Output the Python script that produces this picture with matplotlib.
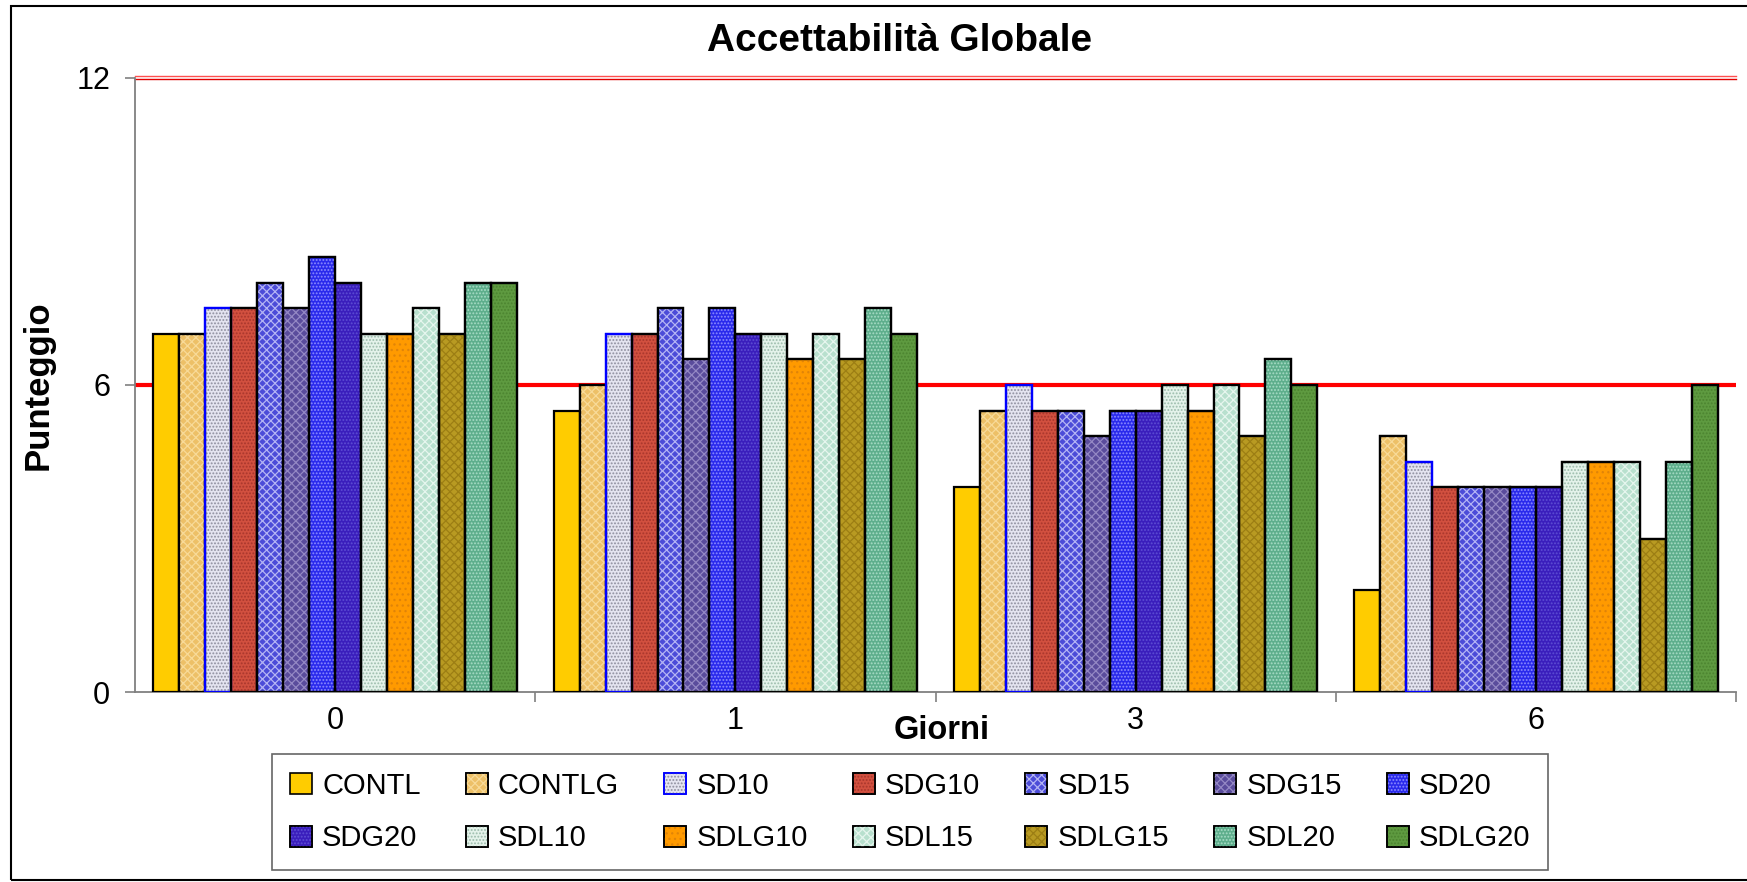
import numpy as np
import matplotlib.pyplot as plt
from matplotlib.patches import Rectangle

plt.rcParams['font.family'] = ['Liberation Sans', 'DejaVu Sans']
plt.rcParams['hatch.linewidth'] = 0.9

# Giorni di conservazione e punteggi per campione
giorni = ['0', '1', '3', '6']
campioni = ['CONTL', 'CONTLG', 'SD10', 'SDG10', 'SD15', 'SDG15', 'SD20',
            'SDG20', 'SDL10', 'SDLG10', 'SDL15', 'SDLG15', 'SDL20', 'SDLG20']

CONTL = [7.0, 5.5, 4.0, 2.0]
CONTLG = [7.0, 6.0, 5.5, 5.0]
SD10 = [7.5, 7.0, 6.0, 4.5]
SDG10 = [7.5, 7.0, 5.5, 4.0]
SD15 = [8.0, 7.5, 5.5, 4.0]
SDG15 = [7.5, 6.5, 5.0, 4.0]
SD20 = [8.5, 7.5, 5.5, 4.0]
SDG20 = [8.0, 7.0, 5.5, 4.0]
SDL10 = [7.0, 7.0, 6.0, 4.5]
SDLG10 = [7.0, 6.5, 5.5, 4.5]
SDL15 = [7.5, 7.0, 6.0, 4.5]
SDLG15 = [7.0, 6.5, 5.0, 3.0]
SDL20 = [8.0, 7.5, 6.5, 4.5]
SDLG20 = [8.0, 7.0, 6.0, 6.0]

valori = [CONTL, CONTLG, SD10, SDG10, SD15, SDG15, SD20,
          SDG20, SDL10, SDLG10, SDL15, SDLG15, SDL20, SDLG20]

soglia = 6
massimo = 12

# colore di fondo, colore del retino, retino, bordo
stili = [
    ('#FFCC00', '#FFCC00', '', 'black'),
    ('#EDC067', '#F8DA98', 'xxxx', 'black'),
    ('#E4E4F0', '#8E8E9E', '.....', '#0000FF'),
    ('#D2503F', '#A8362C', '.....', 'black'),
    ('#4C4CD8', '#B4B4F4', 'xxxx', 'black'),
    ('#5A4C9C', '#9488C4', 'xxxx', 'black'),
    ('#2A2AEC', '#8C8CFF', '.....', 'black'),
    ('#3A1EBC', '#5E4ED4', '.....', 'black'),
    ('#E4F2EA', '#9CBCAC', '.....', 'black'),
    ('#FF9A00', '#E08408', '...', 'black'),
    ('#B8E0CE', '#E6F6EE', 'xxxx', 'black'),
    ('#B89A22', '#9C7E14', 'xxxx', 'black'),
    ('#5EAE8C', '#A8DCC6', '.....', 'black'),
    ('#5E9A40', '#4C8430', '.....', 'black'),
]

fig = plt.figure(figsize=(17.47, 8.82), dpi=100)
ax = fig.add_axes([0.0773, 0.2154, 0.9164, 0.6962])

x = np.arange(len(giorni))
n = len(campioni)
w = 0.908 / n

handles = []
for i, (nome, val) in enumerate(zip(campioni, valori)):
    fc, hc, hatch, ec = stili[i]
    pos = x - 0.454 + w * (i + 0.5)
    ax.bar(pos, val, w, color=fc, edgecolor=ec, linewidth=1.6, zorder=3)
    if hatch:
        ax.bar(pos, val, w, color='none', edgecolor=hc, hatch=hatch,
               linewidth=0, zorder=4)
        ax.bar(pos, val, w, color='none', edgecolor=ec, linewidth=1.6, zorder=5)
    p1 = Rectangle((0, 0), 1, 1, facecolor=fc, edgecolor=ec, linewidth=1.2)
    if hatch:
        p2 = Rectangle((0, 0), 1, 1, facecolor='none', edgecolor=hc,
                       hatch=hatch, linewidth=0)
        p3 = Rectangle((0, 0), 1, 1, facecolor='none', edgecolor=ec, linewidth=1.2)
        handles.append((p1, p2, p3))
    else:
        handles.append(p1)

# linee di riferimento
ax.axhline(soglia, color='#FF0000', linewidth=3, zorder=1)
ax.axhline(massimo + 0.03, color='#FF5050', linewidth=1.0, zorder=1, clip_on=False)
ax.axhline(massimo - 0.02, color='#E00000', linewidth=1.0, zorder=1, clip_on=False)

ax.set_xlim(-0.5, 3.5)
ax.set_ylim(0, 12)
ax.set_yticks([0, 6, 12])
ax.set_xticks(x)
ax.set_xticklabels(giorni)
ax.set_xticks([0.5, 1.5, 2.5, 3.5], minor=True)
ax.tick_params(axis='x', which='major', length=0, pad=10, labelsize=22)
ax.tick_params(axis='x', which='minor', length=7, width=1.2, color='#808080')
ax.tick_params(axis='y', length=7, width=1.2, color='#808080', pad=11, labelsize=22)

for s in ['top', 'right']:
    ax.spines[s].set_visible(False)
for s in ['left', 'bottom']:
    ax.spines[s].set_color('#808080')
    ax.spines[s].set_linewidth(1.3)

fig.text(0.515, 0.954, 'Accettabilità Globale', ha='center', va='center',
         fontsize=28, fontweight='bold')
fig.text(0.022, 0.563, 'Punteggio', ha='center', va='center', rotation=90,
         fontsize=25, fontweight='bold')
fig.text(0.539, 0.172, 'Giorni', ha='center', va='center',
         fontsize=23.5, fontweight='bold')

# legenda su due righe: riordino per colonne
ordine = []
for c in range(7):
    ordine += [c, c + 7]
leg = fig.legend([handles[k] for k in ordine], [campioni[k] for k in ordine],
                 loc='center', bbox_to_anchor=(0.521, 0.0794), ncol=7,
                 fontsize=21, frameon=True, fancybox=False,
                 handlelength=0.75, handleheight=0.75, handletextpad=0.35,
                 columnspacing=1.55, labelspacing=0.85, borderpad=0.6)
leg.get_frame().set_edgecolor('#404040')
leg.get_frame().set_linewidth(1.2)

# cornice esterna
fig.patches.append(Rectangle((11 / 1747, 1 - 880 / 882), 1.0, (874 / 882),
                             transform=fig.transFigure, fill=False,
                             edgecolor='black', linewidth=1.5))

fig.savefig('out.png', dpi=100)
